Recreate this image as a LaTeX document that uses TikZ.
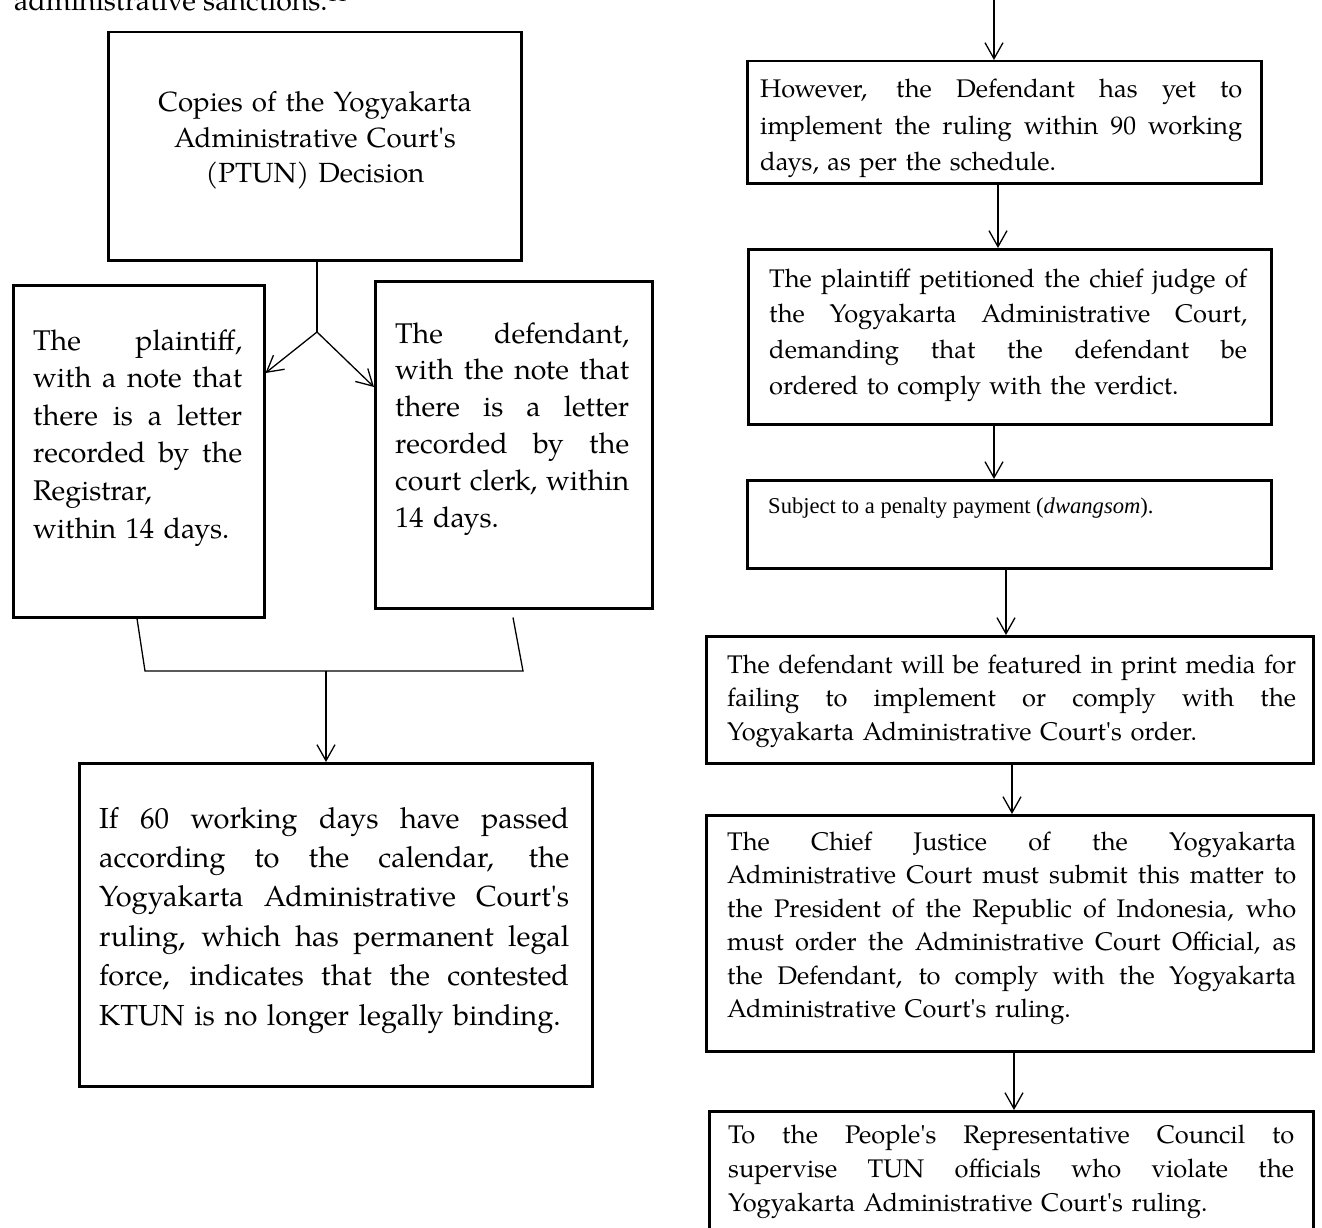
\documentclass[tikz,border=0pt]{standalone}
\usepackage{fontspec}
\setmainfont{TeX Gyre Pagella}
\newfontfamily\timesfont{Liberation Serif}
\usetikzlibrary{arrows.meta,calc}
\newcommand\W{100pt}
\newcommand\jl[1]{\leavevmode\hbox to \W{\spaceskip=\fontdimen2\font plus 1fill\relax #1}}
\newcommand\ap{\textquotesingle}
\begin{document}
\begin{tikzpicture}[x=1pt,y=-1pt,
  box/.style={draw, line width=2.5pt, inner sep=0pt, anchor=north west},
  txt/.style={inner sep=0pt, anchor=base west, align=left, text width=#1},
  con/.style={line width=1.3pt},
  arr/.style={con, -{Straight Barb[length=16pt, width=18pt, line width=1.3pt]}},
]
\fill[white] (0,0) rectangle (1322,1228);
\useasboundingbox (0,0) rectangle (1322,1228);

% heading fragment
\node[inner sep=0pt, anchor=base west, font=\fontsize{28.5}{34}\selectfont] (prev) at (14,11) {administrative sanctions.\textsuperscript{11}};

% ---------- left column ----------
\node[box, minimum width=413pt, minimum height=228pt] (A) at (107,31) {};
\node[inner sep=0pt, anchor=base, align=center, text width=413pt, font=\fontsize{27.7}{35.5}\selectfont] (At) at (315,112)
  {Copies of the Yogyakarta\\Administrative Court\ap s\\(PTUN) Decision};

\node[box, minimum width=251pt, minimum height=332pt] (B) at (12,284) {};
\node[txt=209pt, font=\fontsize{28.5}{37.6}\selectfont] (Bt) at (33,350)
  {\renewcommand\W{209pt}\jl{The plaintiff,}\\\jl{with a note that}\\\jl{there is a letter}\\\jl{recorded by the}\\Registrar,\\within 14 days.};

\node[box, minimum width=277pt, minimum height=327pt] (C) at (374,280) {};
\node[txt=236pt, font=\fontsize{28.5}{36.8}\selectfont] (Ct) at (395,343)
  {\renewcommand\W{234pt}\jl{The defendant,}\\\jl{with the note that}\\\jl{there is a letter}\\\jl{recorded by the}\\\jl{court clerk, within}\\14 days.};

\node[box, minimum width=513pt, minimum height=323pt] (D) at (78,762) {};
\node[txt=470pt, font=\fontsize{29}{39.4}\selectfont] (Dt) at (99,828)
  {\renewcommand\W{470pt}\jl{If 60 working days have passed}\\\jl{according to the calendar, the}\\\jl{Yogyakarta Administrative Court\ap s}\\\jl{ruling, which has permanent legal}\\\jl{force, indicates that the contested}\\KTUN is no longer legally binding.};

% connectors left
\coordinate (split) at (317,332);
\draw[con] (A.south -| split) -- (split);
\draw[arr] (split) -- ($(B.north east)+(0,89)$);
\draw[arr] (split) -- ($(C.north west)+(0,107)$);
\coordinate (bl) at (145,671);
\coordinate (br) at (523,671);
\coordinate (bm) at (326,671);
\draw[con] ($(B.south west)+(125,0)$) -- (bl) -- (br) -- ($(C.south west)+(139,8)$);
\draw[arr] (bm) -- (D.north -| bm);

% ---------- right column ----------
\node[box, minimum width=514pt, minimum height=122pt] (E) at (746,60) {};
\node[txt=482pt, font=\fontsize{25.5}{36.5}\selectfont] (Et) at (760,98)
  {\renewcommand\W{482pt}\jl{However, the Defendant has yet to}\\\jl{implement the ruling within 90 working}\\days, as per the schedule.};

\node[box, minimum width=523pt, minimum height=175pt] (F) at (747,248) {};
\node[txt=478pt, font=\fontsize{25.5}{35.7}\selectfont] (Ft) at (769,287)
  {\renewcommand\W{478pt}\jl{The plaintiff petitioned the chief judge of}\\\jl{the Yogyakarta Administrative Court,}\\\jl{demanding that the defendant be}\\ordered to comply with the verdict.};

\node[box, minimum width=524pt, minimum height=88pt] (G) at (746,479) {};
\node[inner sep=0pt, anchor=base west, font=\timesfont\fontsize{22.6}{27}\selectfont] (Gt) at (768,513)
  {Subject to a penalty payment (\textit{dwangsom}).};

\node[box, minimum width=607pt, minimum height=127pt] (H) at (705,635) {};
\node[txt=569pt, font=\fontsize{25.5}{33.5}\selectfont] (Ht) at (727,673)
  {\renewcommand\W{569pt}\jl{The defendant will be featured in print media for}\\\jl{failing to implement or comply with the}\\Yogyakarta Administrative Court\ap s order.};

\node[box, minimum width=607pt, minimum height=236pt] (I) at (705,814) {};
\node[txt=569pt, font=\fontsize{25.5}{33.5}\selectfont] (It) at (727,850)
  {\renewcommand\W{569pt}\jl{The Chief Justice of the Yogyakarta}\\\jl{Administrative Court must submit this matter to}\\\jl{the President of the Republic of Indonesia, who}\\\jl{must order the Administrative Court Official, as}\\\jl{the Defendant, to comply with the Yogyakarta}\\Administrative Court\ap s ruling.};

\node[box, minimum width=604pt, minimum height=135pt] (J) at (708,1110) {};
\node[txt=566pt, font=\fontsize{25.5}{34}\selectfont] (Jt) at (728,1143)
  {\renewcommand\W{566pt}\jl{To the People\ap s Representative Council to}\\\jl{supervise TUN officials who violate the}\\Yogyakarta Administrative Court\ap s ruling.};

% connectors right
\coordinate (top) at (994,-5);
\draw[arr] (top) -- (E.north -| top);
\coordinate (xEF) at (998,0);
\draw[arr] (E.south -| xEF) -- (F.north -| xEF);
\coordinate (xFG) at (994,0);
\draw[arr] (F.south -| xFG) -- (G.north -| xFG);
\coordinate (xGH) at (1006,0);
\draw[arr] (G.south -| xGH) -- (H.north -| xGH);
\coordinate (xHI) at (1012,0);
\draw[arr] (H.south -| xHI) -- (I.north -| xHI);
\coordinate (xIJ) at (1014,0);
\draw[arr] (I.south -| xIJ) -- (J.north -| xIJ);
\end{tikzpicture}
\end{document}
